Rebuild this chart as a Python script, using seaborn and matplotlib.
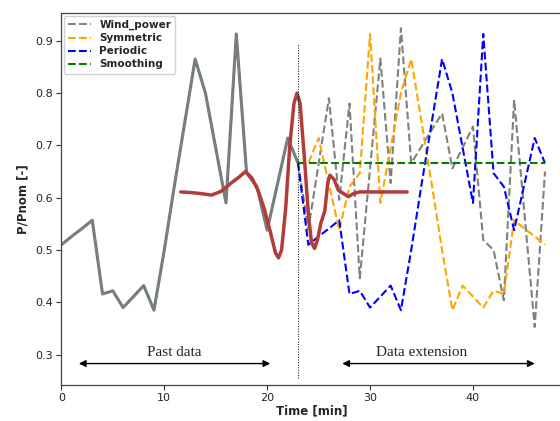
import numpy as np
import matplotlib
matplotlib.use("Agg")
import matplotlib.pyplot as plt
import seaborn as sns

# Measured wind power (per-unit), one sample per minute
time_past = [0, 1, 2, 3, 4, 5, 6, 7, 8, 9, 10, 11, 12, 13, 14, 15, 16, 17, 18, 19, 20, 21, 22, 23]
power_past = [0.510, 0.526, 0.541, 0.557, 0.416, 0.422, 0.390, 0.411, 0.432, 0.385, 0.500, 0.625,
              0.745, 0.865, 0.800, 0.695, 0.590, 0.913, 0.647, 0.621, 0.538, 0.626, 0.714, 0.666]

time_ext = [23, 24, 25, 26, 27, 28, 29, 30, 31, 32, 33, 34, 35, 36, 37, 38, 39, 40, 41, 42, 43, 44, 45, 46, 47]
power_future = [0.666, 0.540, 0.665, 0.790, 0.596, 0.780, 0.446, 0.656, 0.866, 0.628, 0.924, 0.666, 0.698,
                0.730, 0.761, 0.656, 0.696, 0.736, 0.519, 0.500, 0.404, 0.787, 0.570, 0.353, 0.650]

# Extension methods
symmetric = [0.666, 0.666, 0.714, 0.626, 0.538, 0.621, 0.647, 0.913, 0.590, 0.695, 0.800, 0.865, 0.745,
             0.625, 0.500, 0.385, 0.432, 0.411, 0.390, 0.422, 0.416, 0.557, 0.541, 0.526, 0.510]
periodic = [0.666, 0.510, 0.526, 0.541, 0.557, 0.416, 0.422, 0.390, 0.411, 0.432, 0.385, 0.500, 0.625,
            0.745, 0.865, 0.800, 0.695, 0.590, 0.913, 0.647, 0.621, 0.538, 0.626, 0.714, 0.666]
smooth_time = [23, 47]
smooth_level = [0.666, 0.666]

# Filtered signal
filt_time = [11.6, 12.5, 13.5, 14.6, 15.5, 16.5, 17.3, 17.9, 18.5, 19.1, 19.7, 20.3, 20.8, 21.1, 21.4,
             21.8, 22.2, 22.6, 22.9, 23.2, 23.6, 24.0, 24.3, 24.6, 24.9, 25.2, 25.6, 25.9, 26.1, 26.5,
             26.9, 27.4, 27.9, 28.4, 29.0, 33.6]
filt_power = [0.611, 0.610, 0.608, 0.605, 0.612, 0.628, 0.640, 0.650, 0.638, 0.615, 0.580, 0.535, 0.495,
              0.485, 0.500, 0.580, 0.700, 0.780, 0.800, 0.780, 0.680, 0.570, 0.515, 0.503, 0.520, 0.550,
              0.575, 0.630, 0.643, 0.635, 0.615, 0.608, 0.602, 0.608, 0.611, 0.611]

split_time = 23

sns.set_theme(style="ticks")
plt.rcParams["font.family"] = ["DejaVu Sans"]

fig = plt.figure(figsize=(5.6, 4.21), dpi=100)
ax = fig.add_axes([0.1096, 0.0855, 0.893, 0.8836])

wind_t = time_past + time_ext[1:]
wind_p = power_past + power_future[1:]

# past record drawn solid underneath the dashed wind trace
sns.lineplot(x=time_past, y=power_past, ax=ax, color="#6d7c74", lw=2.2, sort=False)
sns.lineplot(x=wind_t, y=wind_p, ax=ax, color="gray", lw=1.5, linestyle="--", sort=False)
sns.lineplot(x=time_ext, y=symmetric, ax=ax, color="orange", lw=1.5, linestyle="--", sort=False)
sns.lineplot(x=time_ext, y=periodic, ax=ax, color="blue", lw=1.5, linestyle="--", sort=False)
sns.lineplot(x=smooth_time, y=smooth_level, ax=ax, color="green", lw=1.5, linestyle="--", sort=False)
sns.lineplot(x=filt_time, y=filt_power, ax=ax, color="#b23c3a", lw=2.5, sort=False)

lines = ax.get_lines()
handles = [lines[1], lines[2], lines[3], lines[4]]
labels = ["Wind_power", "Symmetric", "Periodic", "Smoothing"]
ax.legend(handles, labels, loc="upper left", prop={"weight": "bold", "size": 7.5},
          handlelength=2.2, borderaxespad=0.25, labelspacing=0.3, framealpha=0.9,
          edgecolor="#cccccc")

ax.plot([split_time, split_time], [0.255, 0.896], color="black", lw=0.7, linestyle=":")

arrow = dict(arrowstyle="<|-|>", color="black", lw=1.0, mutation_scale=10, shrinkA=0, shrinkB=0)
ax.annotate("", xy=(1.7, 0.283), xytext=(20.3, 0.283), arrowprops=arrow)
ax.annotate("", xy=(27.3, 0.283), xytext=(46.0, 0.283), arrowprops=arrow)
ax.text(11.0, 0.305, "Past data", ha="center", va="center", fontsize=11, family="Liberation Serif")
ax.text(35.0, 0.305, "Data extension", ha="center", va="center", fontsize=11, family="Liberation Serif")

ax.set_xlim(0, 48.6)
ax.set_ylim(0.242, 0.953)
ax.set_xticks([0, 10, 20, 30, 40])
ax.set_yticks([0.3, 0.4, 0.5, 0.6, 0.7, 0.8, 0.9])
ax.tick_params(labelsize=8, length=3.5, width=0.8, pad=2.5, color="#333333", labelcolor="#222222")
ax.set_xlabel("Time [min]", fontsize=8.5, fontweight="bold", labelpad=1)
ax.set_ylabel("P/Pnom [-]", fontsize=8.5, fontweight="bold")
for s in ax.spines.values():
    s.set_color("#444444")
    s.set_linewidth(0.9)

fig.savefig("out.png", dpi=100)
